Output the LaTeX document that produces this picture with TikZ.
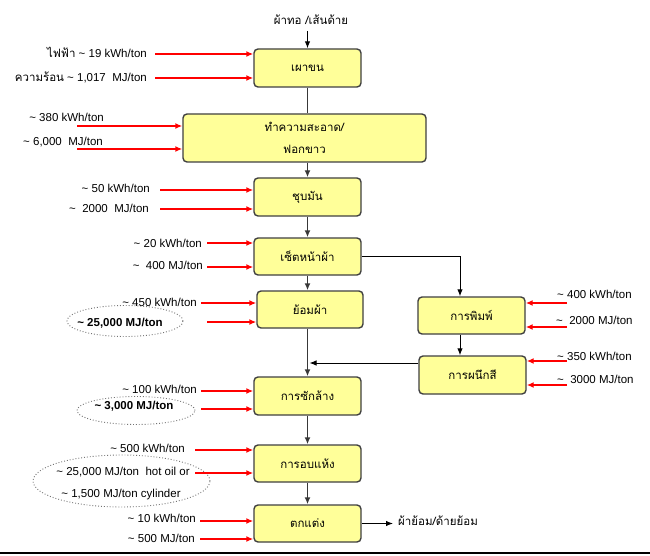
\documentclass[tikz,border=0pt]{standalone}
\usepackage{fontspec}
\setmainfont{Liberation Sans}
\newfontfamily\thai[Script=Thai]{Loma}
\usetikzlibrary{arrows.meta,shapes.geometric}
\newcommand{\apx}{\textasciitilde}
\definecolor{boxy}{HTML}{FFFF99}
\begin{document}
\begin{tikzpicture}[x=1pt,y=-1pt,
  box/.style={draw=black!75, line width=1.4pt, fill=boxy, rounded corners=4pt, inner sep=0pt,
     align=center, font=\thai\fontsize{11.5}{22}\selectfont},
  lbl/.style={inner sep=0pt, font=\fontsize{11.5}{13}\selectfont},
  redarr/.style={draw=red, line width=1.6pt, -{Latex[length=7pt,width=6pt]}},
  arr/.style={draw=black, line width=1pt, -{Latex[length=7pt,width=5.5pt]}},
  varr/.style={draw=black!78, line width=1.6pt, -{Latex[length=7pt,width=6pt]}},
  vline/.style={draw=black!78, line width=1.6pt},
  oval/.style={ellipse, draw=black!55, dotted, line width=0.9pt, inner sep=0pt}]
\fill[white] (0,0) rectangle (650,556);
\useasboundingbox (0,0) rectangle (650,556);
\draw[line width=2pt] (0,553) -- (650,553);

% boxes
\node[box, minimum width=107pt, minimum height=38pt] (b1) at (307.5,68) {เผาขน};
\node[box, minimum width=243pt, minimum height=48pt] (b2) at (304.5,138) {ทำความสะอาด/\\ฟอกขาว};
\node[box, minimum width=107pt, minimum height=38pt] (b3) at (307.5,197) {ชุบมัน};
\node[box, minimum width=107pt, minimum height=37pt] (b4) at (307.5,256.5) {เซ็ตหน้าผ้า};
\node[box, minimum width=106pt, minimum height=37pt] (b5) at (310,309.5) {ย้อมผ้า};
\node[box, minimum width=107pt, minimum height=37pt] (b6) at (471.5,315.5) {การพิมพ์};
\node[box, minimum width=107pt, minimum height=38pt] (b7) at (472.5,375) {การผนึกสี};
\node[box, minimum width=107pt, minimum height=38pt] (b8) at (307.5,396) {การซักล้าง};
\node[box, minimum width=107pt, minimum height=37pt] (b9) at (307.5,463.5) {การอบแห้ง};
\node[box, minimum width=107pt, minimum height=37pt] (b10) at (307.5,523.5) {ตกแต่ง};

% top / bottom texts
\node[lbl, font=\thai\fontsize{11.5}{13}\selectfont] (tin) at (311,20) {ผ้าทอ /เส้นด้าย};
\node[lbl, font=\thai\fontsize{11.5}{13}\selectfont, anchor=west] (tout) at (398,521) {ผ้าย้อม/ด้ายย้อม};

% main flow
\coordinate (mx) at (307.5,0);
\coordinate (px) at (460,0);
\draw[arr] (mx |- 0,31) -- (b1.north);
\draw[vline] (b1.south) -- (mx |- b2.north);
\draw[varr] (mx |- b2.south) -- (b3.north);
\draw[varr] (b3.south) -- (b4.north);
\draw[varr] (b4.south) -- (mx |- b5.north);
\draw[varr] (mx |- b5.south) -- (b8.north);
\draw[varr] (b8.south) -- (b9.north);
\draw[varr] (b9.south) -- (b10.north);
\draw[arr] (b4.east) -| (px |- b6.north);
\draw[arr] (px |- b6.south) -- (px |- b7.north);
\coordinate (j) at (mx |- 0,363);
\draw[arr] (b7.west |- j) -- ([xshift=2pt]j);
\draw[arr, shorten >=5pt] (b10.east) -- (b10.east -| tout.west);

% ellipses
\node[oval, minimum width=116pt, minimum height=31pt] (e1) at (125,321) {};
\node[oval, minimum width=118pt, minimum height=28pt] (e2) at (136,410.5) {};
\node[oval, minimum width=177pt, minimum height=52pt] (e3) at (121.5,481) {};

% left labels
\node[lbl, anchor=east] (l1) at (147,52) {{\thai ไฟฟ้า} \apx{} 19 kWh/ton};
\node[lbl, anchor=east] (l2) at (147,77) {{\thai ความร้อน} \apx{} 1,017 \ MJ/ton};
\node[lbl, anchor=east] (l3) at (104,117) {\apx{} 380 kWh/ton};
\node[lbl, anchor=east] (l4) at (103,142) {\apx{} 6,000 \ MJ/ton};
\node[lbl, anchor=east] (l5) at (150,188) {\apx{} 50 kWh/ton};
\node[lbl, anchor=east] (l6) at (149,208) {\apx{} \ 2000 \ MJ/ton};
\node[lbl, anchor=east] (l7) at (202,243) {\apx{} 20 kWh/ton};
\node[lbl, anchor=east] (l8) at (203,265) {\apx{} \ 400 MJ/ton};
\node[lbl, anchor=east] (l9) at (197,302) {\apx{} 450 kWh/ton};
\node[lbl, font=\bfseries\fontsize{11.5}{13}\selectfont] (l10) at (120,323) {\apx{} 25,000 MJ/ton};
\node[lbl, anchor=east] (l11) at (197,389) {\apx{} 100 kWh/ton};
\node[lbl, font=\bfseries\fontsize{11.5}{13}\selectfont] (l12) at (134,406) {\apx{} 3,000 MJ/ton};
\node[lbl, anchor=east] (l13) at (185,448) {\apx{} 500 kWh/ton};
\node[lbl] (l14) at (123,472) {\apx{} 25,000 MJ/ton \ hot oil or};
\node[lbl] (l15) at (121,495) {\apx{} 1,500 MJ/ton cylinder};
\node[lbl, anchor=east] (l16) at (196,518) {\apx{} 10 kWh/ton};
\node[lbl, anchor=east] (l17) at (195,538) {\apx{} 500 MJ/ton};

% right labels
\node[lbl, anchor=west] (r1) at (557,294) {\apx{} 400 kWh/ton};
\node[lbl, anchor=west] (r2) at (556,320) {\apx{} \ 2000 MJ/ton};
\node[lbl, anchor=west] (r3) at (557,356) {\apx{} 350 kWh/ton};
\node[lbl, anchor=west] (r4) at (557,379) {\apx{} \ 3000 MJ/ton};

% red arrow starts
\coordinate (a1) at (155,54);
\coordinate (a2) at (155,78);
\coordinate (a3) at (77,126);
\coordinate (a4) at (77,149);
\coordinate (a5) at (160,190);
\coordinate (a6) at (160,209);
\coordinate (a7) at (207,243);
\coordinate (a8) at (207,267);
\coordinate (a9) at (201,303);
\coordinate (a10) at (207,322);
\coordinate (a11) at (201,391);
\coordinate (a12) at (201,409);
\coordinate (a13) at (195,450);
\coordinate (a14) at (195,473);
\coordinate (a15) at (200,521);
\coordinate (a16) at (200,539);
\coordinate (c1) at (567,303);
\coordinate (c2) at (567,327);
\coordinate (c3) at (567,361);
\coordinate (c4) at (567,385);

\draw[redarr] (a1) -- (a1 -| b1.west);
\draw[redarr] (a2) -- (a2 -| b1.west);
\draw[redarr] (a3) -- (a3 -| b2.west);
\draw[redarr] (a4) -- (a4 -| b2.west);
\draw[redarr] (a5) -- (a5 -| b3.west);
\draw[redarr] (a6) -- (a6 -| b3.west);
\draw[redarr] (a7) -- (a7 -| b4.west);
\draw[redarr] (a8) -- (a8 -| b4.west);
\draw[redarr] (a9) -- (a9 -| b5.west);
\draw[redarr] (a10) -- (a10 -| b5.west);
\draw[redarr] (a11) -- (a11 -| b8.west);
\draw[redarr] (a12) -- (a12 -| b8.west);
\draw[redarr] (a13) -- (a13 -| b9.west);
\draw[redarr] (a14) -- (a14 -| b9.west);
\draw[redarr] (a15) -- (a15 -| b10.west);
\draw[redarr] (a16) -- (a16 -| b10.west);
\draw[redarr] (c1) -- (c1 -| b6.east);
\draw[redarr] (c2) -- (c2 -| b6.east);
\draw[redarr] (c3) -- (c3 -| b7.east);
\draw[redarr] (c4) -- (c4 -| b7.east);
\end{tikzpicture}
\end{document}
